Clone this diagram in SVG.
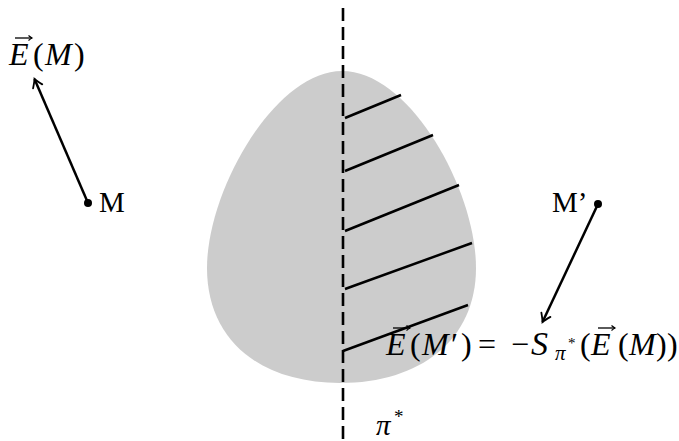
<svg xmlns="http://www.w3.org/2000/svg" width="679" height="441" viewBox="0 0 679 441">
<style>
.t{font-family:"Liberation Serif","DejaVu Serif",serif;fill:#000}
.i{font-style:italic}
.ln{stroke:#000;stroke-width:2.5;fill:none}
.vec{stroke:#000;stroke-width:1.3;fill:none}
</style>
<defs>
<marker id="ah" markerUnits="userSpaceOnUse" markerWidth="20" markerHeight="20" viewBox="-10 -10 20 20" refX="0" refY="0" orient="auto">
<path d="M -8 -5 Q -2.5 -1.2 0 0 Q -2.5 1.2 -8 5" fill="none" stroke="#000" stroke-width="1.8" stroke-linecap="round"/>
</marker>
<marker id="vh" markerUnits="userSpaceOnUse" markerWidth="10" markerHeight="10" viewBox="-5 -5 10 10" refX="0" refY="0" orient="auto">
<path d="M -3.5 -2.5 Q -1 -0.5 0 0 Q -1 0.5 -3.5 2.5" fill="none" stroke="#000" stroke-width="1.1"/>
</marker>
</defs>

<g id="body">
<path d="M 342 71 C 410 71 476 190 476 268 C 476 340 420 383 340 383 C 260 383 207 340 207 268 C 207 190 275 71 342 71 Z" fill="#cccccc"/>
</g>

<g id="hatching">
<line class="ln" x1="345" y1="118" x2="401" y2="95"/>
<line class="ln" x1="345" y1="171" x2="433" y2="135"/>
<line class="ln" x1="345" y1="231" x2="459" y2="185"/>
<line class="ln" x1="345" y1="289" x2="472" y2="243"/>
<line class="ln" x1="343" y1="351" x2="468" y2="305"/>
</g>

<g id="plane">
<line x1="343" y1="8" x2="343" y2="441" stroke="#000" stroke-width="2.6" stroke-dasharray="13 6"/>
<text class="t i" x="376" y="435" font-size="29">π<tspan font-size="19" font-style="normal" x="394" dy="-12">*</tspan></text>
</g>

<g id="M">
<circle cx="88" cy="203" r="4" fill="#000"/>
<text class="t" x="99" y="212" font-size="29">M</text>
</g>

<g id="Mp">
<circle cx="598" cy="204" r="4" fill="#000"/>
<text class="t" x="552" y="212" font-size="29">M’</text>
</g>

<g id="connectors">
<line class="ln" x1="88" y1="203" x2="34.5" y2="79" marker-end="url(#ah)"/>
<line class="ln" x1="598" y1="204" x2="542.5" y2="322" marker-end="url(#ah)"/>
</g>

<g id="labelEM">
<line class="vec" x1="15" y1="38" x2="32" y2="38" marker-end="url(#vh)"/>
<text class="t" y="65" font-size="32"><tspan class="i" x="9">E</tspan><tspan x="33">(</tspan><tspan class="i" x="45">M</tspan><tspan x="74">)</tspan></text>
</g>

<g id="formula">
<line class="vec" x1="393" y1="328" x2="410" y2="328" marker-end="url(#vh)"/>
<line class="vec" x1="598" y1="328" x2="615" y2="328" marker-end="url(#vh)"/>
<text class="t" y="355" font-size="32"><tspan class="i" x="386">E</tspan><tspan x="410">(</tspan><tspan class="i" x="422">M</tspan><tspan x="451">′</tspan><tspan x="461">)</tspan><tspan x="478">=</tspan><tspan x="511">−</tspan><tspan class="i" x="531" font-size="34">S</tspan><tspan class="i" x="555" font-size="21" dy="5">π</tspan><tspan x="568" font-size="15" dy="-12">*</tspan><tspan x="580" dy="7">(</tspan><tspan class="i" x="591">E</tspan><tspan x="618">(</tspan><tspan class="i" x="629">M</tspan><tspan x="656">)</tspan><tspan x="667">)</tspan></text>
</g>
</svg>
